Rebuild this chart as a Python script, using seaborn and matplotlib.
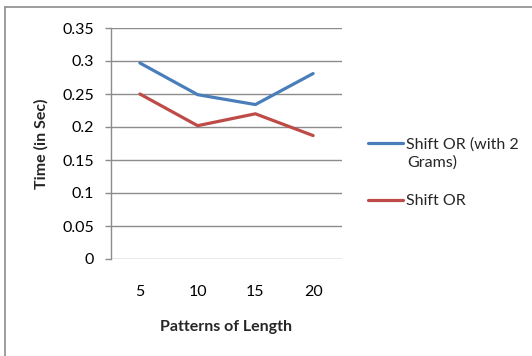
import matplotlib
matplotlib.use("Agg")
import matplotlib.pyplot as plt
import seaborn as sns
import pandas as pd
from matplotlib.lines import Line2D

categories = ["5", "10", "15", "20"]
shift_or_2grams = [0.297, 0.249, 0.234, 0.281]
shift_or = [0.250, 0.202, 0.220, 0.187]
series_names = ["Shift OR (with 2 Grams)", "Shift OR"]
y_ticks = [0, 0.05, 0.1, 0.15, 0.2, 0.25, 0.3, 0.35]
y_tick_labels = ["0", "0.05", "0.1", "0.15", "0.2", "0.25", "0.3", "0.35"]
colors = ["#4A7EBB", "#BE4B48"]

sns.set_style("white")
plt.rcParams["font.family"] = ["Lato", "DejaVu Sans"]

df = pd.DataFrame({
    "Length": categories * 2,
    "Time": shift_or_2grams + shift_or,
    "Series": [series_names[0]] * 4 + [series_names[1]] * 4,
})

FS = 11.5
W, H = 532, 356
fig = plt.figure(figsize=(W / 100, H / 100), dpi=100)
ax = fig.add_axes([111 / W, 1 - 259 / H, 231 / W, 231 / H])

sns.lineplot(data=df, x="Length", y="Time", hue="Series", palette=colors,
             linewidth=2.3, ax=ax, legend=False, sort=False, zorder=3)

ax.set_xlim(-0.5, 3.5)
ax.set_ylim(0, 0.35)
ax.set_yticks(y_ticks)
ax.set_yticklabels(y_tick_labels)
ax.yaxis.grid(True, color="#8C8C8C", linewidth=1)
ax.xaxis.grid(False)
for s in ["top", "right", "bottom"]:
    ax.spines[s].set_visible(False)
ax.spines["left"].set_color("#8C8C8C")
ax.spines["left"].set_linewidth(1)
ax.tick_params(axis="y", which="major", length=4.3, width=1, color="#8C8C8C",
               direction="out", left=True, labelsize=FS, pad=8, labelcolor="#000000")
ax.tick_params(axis="x", length=0, labelsize=FS, pad=19, labelcolor="#000000")

ax.set_xlabel("Patterns of Length", fontsize=FS, fontweight="bold", labelpad=15)
ax.set_ylabel("Time (in Sec)", fontsize=FS, fontweight="bold", labelpad=10)

handles = [Line2D([0], [0], color=c, linewidth=2.3) for c in colors]
leg = fig.legend(handles, ["Shift OR (with 2", "Shift OR"],
                 loc="upper left", bbox_to_anchor=(368 / W, 1 - 137 / H),
                 frameon=False, fontsize=FS, handlelength=2.2, handletextpad=0.15,
                 labelspacing=2.68, borderaxespad=0, borderpad=0)
fig.text(407 / W, 1 - 163 / H, "Grams)", fontsize=FS, va="center", ha="left")

# chart border (top and left visible)
fig.add_artist(Line2D([5 / W, 5 / W], [0, 1 - 7 / H], transform=fig.transFigure,
                      color="#8C8C8C", linewidth=1.2))
fig.add_artist(Line2D([5 / W, 1], [1 - 7 / H, 1 - 7 / H], transform=fig.transFigure,
                      color="#8C8C8C", linewidth=1.2))

fig.savefig("out.png", dpi=100, facecolor="white")
